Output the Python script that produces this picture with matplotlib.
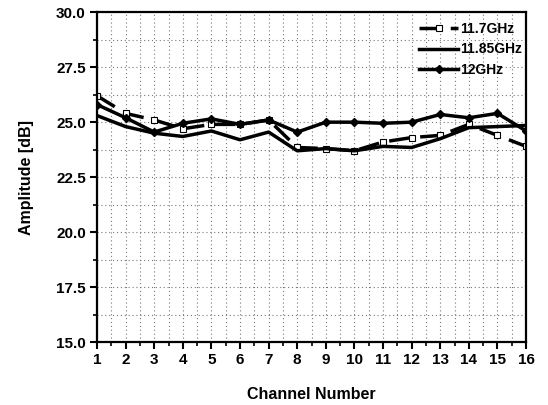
import numpy as np
import matplotlib
matplotlib.use("Agg")
import matplotlib.pyplot as plt
from matplotlib.ticker import MultipleLocator

# channel numbers and amplitude (dB)
channels = list(range(1, 17))
amp_11_7 = [26.2, 25.4, 25.1, 24.7, 24.9, 24.9, 25.1, 23.85, 23.8, 23.7, 24.1, 24.3, 24.4, 24.9, 24.4, 23.9]
amp_11_85 = [25.3, 24.8, 24.5, 24.35, 24.6, 24.2, 24.55, 23.7, 23.8, 23.7, 23.9, 23.85, 24.25, 24.75, 24.8, 24.85]
amp_12 = [25.8, 25.2, 24.55, 24.95, 25.15, 24.9, 25.1, 24.55, 25.0, 25.0, 24.95, 25.0, 25.35, 25.2, 25.4, 24.6]
labels = ["11.7GHz", "11.85GHz", "12GHz"]

plt.rcParams['font.family'] = ['Liberation Sans', 'DejaVu Sans']
plt.rcParams['font.weight'] = 'bold'

fig = plt.figure(figsize=(5.48, 4.05), dpi=100)
ax = fig.add_axes([0.177, 0.155, 0.783, 0.815])

ax.plot(channels, amp_11_7, color='black', lw=2.5, dashes=(6, 3),
        marker='s', markersize=4.5, markerfacecolor='white', markeredgewidth=0.8,
        label=labels[0])
ax.plot(channels, amp_11_85, color='black', lw=2.5, label=labels[1])
ax.plot(channels, amp_12, color='black', lw=2.5, marker='D', markersize=4,
        label=labels[2])

ax.set_xlim(1, 16)
ax.set_ylim(15, 30)
ax.xaxis.set_major_locator(MultipleLocator(1))
ax.xaxis.set_minor_locator(MultipleLocator(0.5))
ax.yaxis.set_major_locator(MultipleLocator(2.5))
ax.yaxis.set_minor_locator(MultipleLocator(1.25))
ax.yaxis.set_major_formatter(matplotlib.ticker.FormatStrFormatter('%.1f'))

ax.grid(which='both', color='#777777', linestyle=(0, (1, 2.5)), lw=0.8)
ax.tick_params(which='major', direction='out', length=5, width=1.5, labelsize=11, pad=3)
ax.tick_params(which='minor', direction='out', length=3, width=1.2)
for s in ax.spines.values():
    s.set_linewidth(1.6)

ax.set_xlabel("Channel Number", fontsize=11.5, fontweight='bold', labelpad=14)
ax.set_ylabel("Amplitude [dB]", fontsize=11.5, fontweight='bold', labelpad=16)

leg = ax.legend(loc='upper right', bbox_to_anchor=(1.01, 0.995), frameon=False,
                fontsize=10, handlelength=2.8, handletextpad=0.15,
                labelspacing=0.45, borderaxespad=0.2)
for t in leg.get_texts():
    t.set_fontweight('bold')

fig.savefig("out.png", dpi=100)
